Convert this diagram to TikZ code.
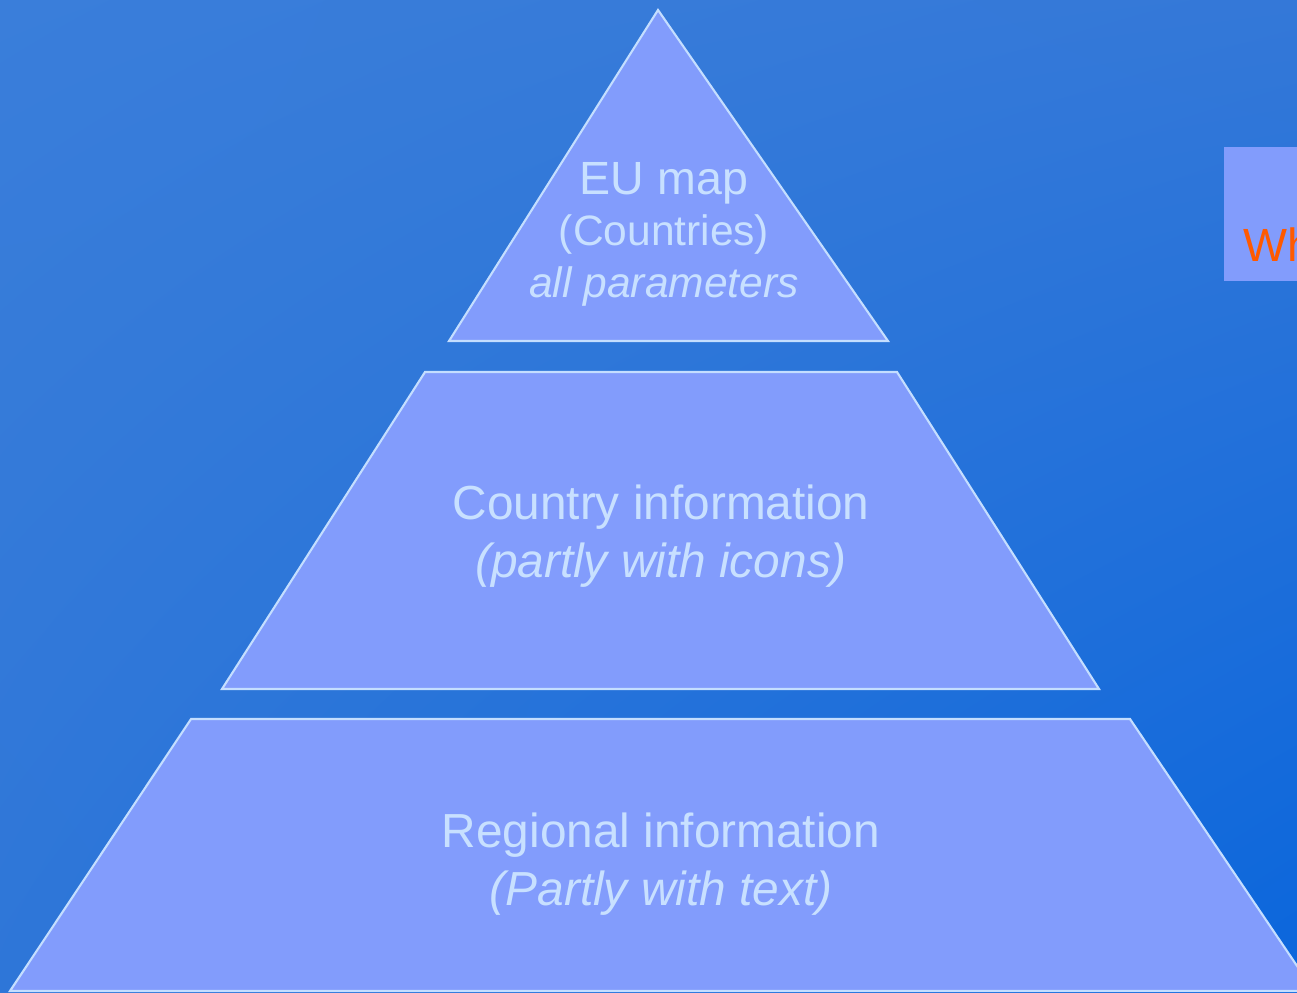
\documentclass[tikz,border=0pt]{standalone}
\usepackage{fontspec}
\setmainfont{Liberation Sans}
\usetikzlibrary{positioning, shadings}
\definecolor{bgtl}{HTML}{3A7EDA}
\definecolor{bgtr}{HTML}{3478D8}
\definecolor{bgbl}{HTML}{2E76D8}
\definecolor{bgbr}{HTML}{0A66DC}
\definecolor{tierfill}{HTML}{829CFC}
\definecolor{tierline}{HTML}{C4DEFF}
\definecolor{tiertext}{HTML}{C8E0FF}
\definecolor{boxtext}{HTML}{FF5A00}

\tikzset{
  tier/.style={fill=tierfill, draw=tierline, line width=1.2pt},
  tiertxt/.style={text=tiertext, align=center, inner sep=0pt}
}

\begin{document}
\begin{tikzpicture}[x=0.02cm, y=-0.02cm]
        \useasboundingbox (0,0) rectangle (1297,992);
        \clip (0,0) rectangle (1297,992);
        \shade[upper left=bgtl, upper right=bgtr, lower left=bgbl, lower right=bgbr]
              (0,0) rectangle (1297,992);
        % pyramid tiers
        \draw[tier] (658,10) -- (888,341) -- (449,341) -- cycle;
        \draw[tier] (425,372) -- (897,372) -- (1099,689) -- (222,689) -- cycle;
        \draw[tier] (191,719) -- (1130,719) -- (1314,991) -- (10,991) -- cycle;
        % side box
        \fill[tierfill] (1224,147) rectangle (1320,281);
        \node[text=boxtext, font=\fontsize{26.5}{32}\selectfont, anchor=base west, inner sep=0pt]
              (wh) at (1243,261) {Wh};
        % labels (anchored at the last line)
        \node[tiertxt, font=\fontsize{24.2}{29.2}\selectfont, anchor=base]
              (eumap) at (664,297) {{\fontsize{26.5}{29.2}\selectfont EU map}\\(Countries)\\\textit{all parameters}};
        \node[tiertxt, font=\fontsize{27.2}{33}\selectfont, anchor=base]
              (country) at (661,577) {Country information\\\textit{(partly with icons)}};
        \node[tiertxt, font=\fontsize{27.2}{33}\selectfont, anchor=base]
              (regional) at (661,905) {Regional information\\\textit{(Partly with text)}};
      \end{tikzpicture}
\end{document}
